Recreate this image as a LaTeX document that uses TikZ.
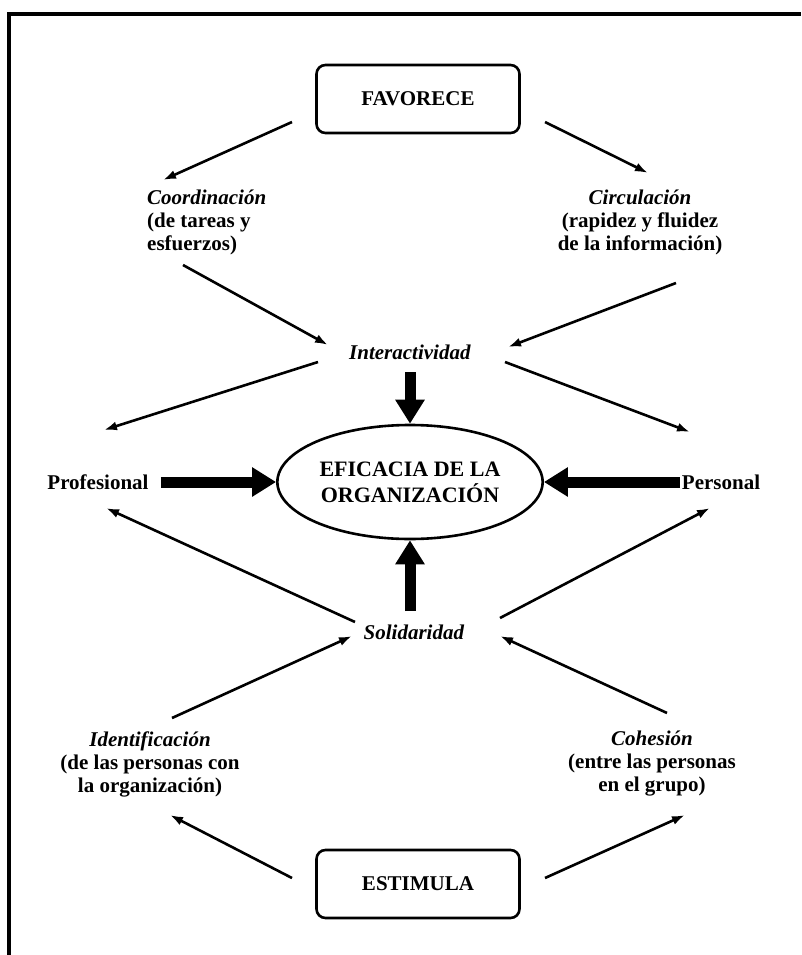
\documentclass[tikz,border=0pt]{standalone}
\usepackage{fontspec}
\setmainfont{Liberation Serif}
\usepackage{tikz}
\usetikzlibrary{shapes,arrows,arrows.meta}
\newcommand{\diagfont}{\fontsize{21}{23}\selectfont\bfseries}
\tikzstyle{block} = [rectangle, draw, line width=2.6pt, rounded corners=9pt,
    minimum width=203pt, minimum height=68pt, font=\diagfont]
\tikzstyle{goal} = [ellipse, draw, line width=2.6pt, minimum width=244pt,
    minimum height=114pt, align=center, font=\fontsize{22}{26}\selectfont\bfseries]
\tikzstyle{txt} = [inner sep=0pt, align=center, font=\diagfont]
\tikzstyle{arrow} = [draw, -{Latex[length=13pt,width=9pt]}, line width=2.6pt]
\tikzstyle{bigarrow} = [draw, line width=11pt, -{Triangle[length=24pt,width=28pt]}]

\begin{document}
\begin{tikzpicture}[x=1pt, y=-1pt]
    \useasboundingbox (0,0) rectangle (801,955);
    \draw[line width=3.2pt] (9,955) -- (9,14) -- (801,14);

    \node[block] (fav) at (418,99) {FAVORECE};
    \node[block] (est) at (418,884) {ESTIMULA};
    \node[goal] (efic) at (410,482) {EFICACIA DE LA\\ORGANIZACIÓN};

    \node[txt, align=left, anchor=west] (coord) at (147,222)
      {\textit{Coordinación}\\(de tareas y\\esfuerzos)};
    \node[txt] (circ) at (640,222)
      {\textit{Circulación}\\(rapidez y fluidez\\de la información)};
    \node[txt] (inter) at (410,352) {\textit{Interactividad}};
    \node[txt] (prof) at (98,482) {Profesional};
    \node[txt] (pers) at (721,482) {Personal};
    \node[txt] (solid) at (414,632) {\textit{Solidaridad}};
    \node[txt] (ident) at (150,764)
      {\textit{Identificación}\\(de las personas con\\la organización)};
    \node[txt] (cohes) at (652,764)
      {\textit{Cohesión}\\(entre las personas\\en el grupo)};

    % thin arrows
    \draw[arrow] ([shift={(-126,23)}]fav.center) -- ([shift={(16,-42)}]coord.west);
    \draw[arrow] ([shift={(127,23)}]fav.center) -- ([shift={(8,-49)}]circ.center);
    \draw[arrow] ([shift={(36,43)}]coord.west) -- ([shift={(-82,-7)}]inter.center);
    \draw[arrow] ([shift={(36,61)}]circ.center) -- ([shift={(98,-5)}]inter.center);
    \draw[arrow] ([shift={(-92,10)}]inter.center) -- ([shift={(6,-52)}]prof.center);
    \draw[arrow] ([shift={(95,10)}]inter.center) -- ([shift={(-31,-50)}]pers.center);
    \draw[arrow] ([shift={(-59,-10)}]solid.center) -- ([shift={(8,26)}]prof.center);
    \draw[arrow] ([shift={(86,-14)}]solid.center) -- ([shift={(-11,26)}]pers.center);
    \draw[arrow] ([shift={(22,-46)}]ident.center) -- ([shift={(-62,4)}]solid.center);
    \draw[arrow] ([shift={(15,-51)}]cohes.center) -- ([shift={(86,4)}]solid.center);
    \draw[arrow] ([shift={(-126,-6)}]est.center) -- ([shift={(20,51)}]ident.center);
    \draw[arrow] ([shift={(127,-6)}]est.center) -- ([shift={(33,51)}]cohes.center);

    % thick arrows into the ellipse
    \draw[bigarrow] ([shift={(0,20)}]inter.center) -- (efic.north);
    \draw[bigarrow] ([shift={(-4,-21)}]solid.center) -- (efic.south);
    \draw[bigarrow, shorten <=12pt] (prof.east) -- (efic.west);
    \draw[bigarrow, shorten <=2pt] (pers.west) -- (efic.east);
\end{tikzpicture}
\end{document}
